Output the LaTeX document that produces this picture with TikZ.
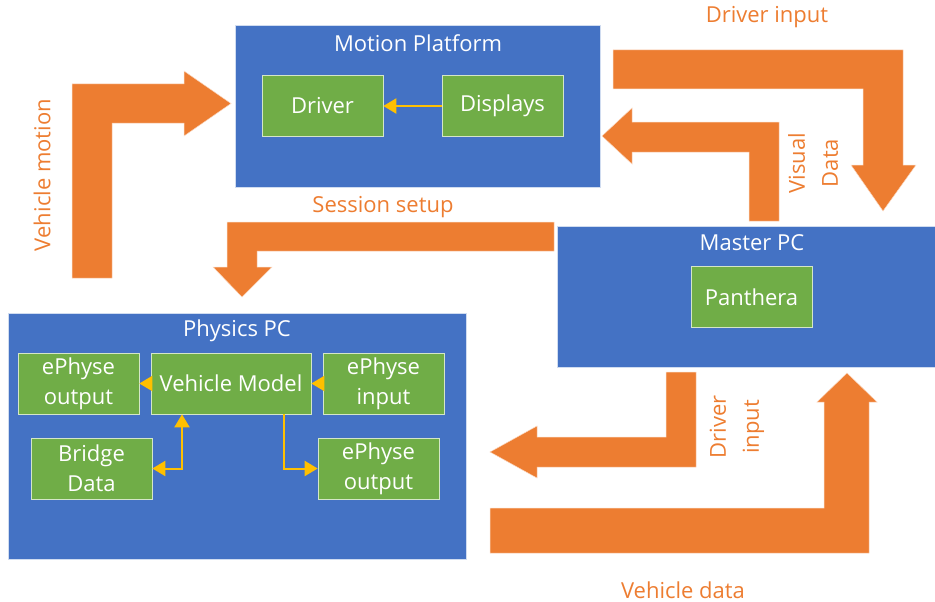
\documentclass[tikz,border=0pt]{standalone}
\usepackage{fontspec}
\setmainfont{Open Sans}
\usetikzlibrary{arrows.meta}

\definecolor{pcblue}{HTML}{4472C4}
\definecolor{partgreen}{HTML}{70AD47}
\definecolor{flow}{HTML}{ED7D31}
\definecolor{feedyellow}{HTML}{FFC000}

\tikzset{
  pc/.style={fill=pcblue, draw=white!75!pcblue, line width=0.6pt, anchor=north west, inner sep=0pt},
  part/.style={fill=partgreen, draw=white!70!partgreen, line width=0.6pt, text=white, align=center,
    minimum width=121pt, minimum height=61pt, inner sep=0pt, font=\fontsize{22}{30}\selectfont},
  pctitle/.style={text=white, font=\fontsize{22}{30}\selectfont},
  flowlabel/.style={text=flow, align=center, font=\fontsize{22}{33}\selectfont},
  bigarrow/.style={fill=flow, draw=white!70!flow, line width=0.5pt},
  feed/.style={draw=feedyellow, line width=2pt, -{Triangle[length=13pt,width=15pt]}},
}

\begin{document}
\begin{tikzpicture}[x=1pt, y=-1pt]
    \useasboundingbox (0,0) rectangle (935,602);

    % computers
    \node [pc, minimum width=365pt, minimum height=162pt] (motion) at (235,25) {};
    \node [pc, minimum width=378pt, minimum height=141pt] (master) at (557,226) {};
    \node [pc, minimum width=458pt, minimum height=246pt] (physics) at (8,313) {};

    \node [pctitle] (motiontitle) at (418,43) {Motion Platform};
    \node [pctitle] (mastertitle) at (752,243) {Master PC};
    \node [pctitle] (physicstitle) at (237,331) {Physics PC};

    % parts
    \node [part] (driver) at (322.5,106) {Driver};
    \node [part] (displays) at (502.5,106) {Displays};
    \node [part] (panthera) at (751.5,297) {Panthera};
    \node [part] (outl) at (78.5,383.5) {ePhyse\\output};
    \node [part, minimum width=160pt] (vmodel) at (231,383.5) {Vehicle Model};
    \node [part] (inp) at (383.5,383.5) {ePhyse\\input};
    \node [part] (bridge) at (91.5,468.5) {Bridge\\Data};
    \node [part] (outr) at (378.5,468.5) {ePhyse\\output};

    \draw [feed] (displays) -- (driver);
    \draw [feed] (vmodel) -- (outl);
    \draw [feed] (inp) -- (vmodel);
    \draw [feed, {Triangle[length=13pt,width=15pt]}-{Triangle[length=13pt,width=15pt]}] (bridge) -| ([xshift=-49pt]vmodel.south);
    \draw [feed] ([xshift=53pt]vmodel.south) |- (outr);

    % data flow
    \draw [bigarrow] (72,278) -- (72,84) -- (184,84) -- (184,71) -- (231,103.5) -- (184,136) -- (184,123) -- (112,123) -- (112,278) -- cycle; % vehicle motion
    \draw [bigarrow] (554,222) -- (227,222) -- (227,267) -- (213,267) -- (242,297) -- (272,267) -- (257,267) -- (257,251) -- (554,251) -- cycle; % session setup
    \draw [bigarrow] (613,50) -- (903,50) -- (903,165) -- (916,165) -- (883,211) -- (851,165) -- (863,165) -- (863,89) -- (613,89) -- cycle; % driver input
    \draw [bigarrow] (779,221) -- (779,122) -- (632,122) -- (632,108) -- (602,136) -- (632,164) -- (632,152) -- (749,152) -- (749,221) -- cycle; % visual data
    \draw [bigarrow] (666,372) -- (696,372) -- (696,467) -- (537,467) -- (537,478) -- (490,452) -- (537,426) -- (537,437) -- (666,437) -- cycle; % driver input
    \draw [bigarrow] (490,508) -- (824,508) -- (824,402) -- (817,402) -- (847,373) -- (877,402) -- (869,402) -- (869,553) -- (490,553) -- cycle; % vehicle data

    \node [flowlabel, rotate=90] (motionlabel) at (42,175) {Vehicle motion};
    \node [flowlabel] (setuplabel) at (383,207) {Session setup};
    \node [flowlabel] (inputlabel) at (767,17) {Driver input};
    \node [flowlabel, rotate=90] (visuallabel) at (813,163) {Visual\\Data};
    \node [flowlabel, rotate=90] (inputlabelb) at (737,427) {Driver\\input};
    \node [flowlabel] (datalabel) at (683,590) {Vehicle data};
\end{tikzpicture}
\end{document}
